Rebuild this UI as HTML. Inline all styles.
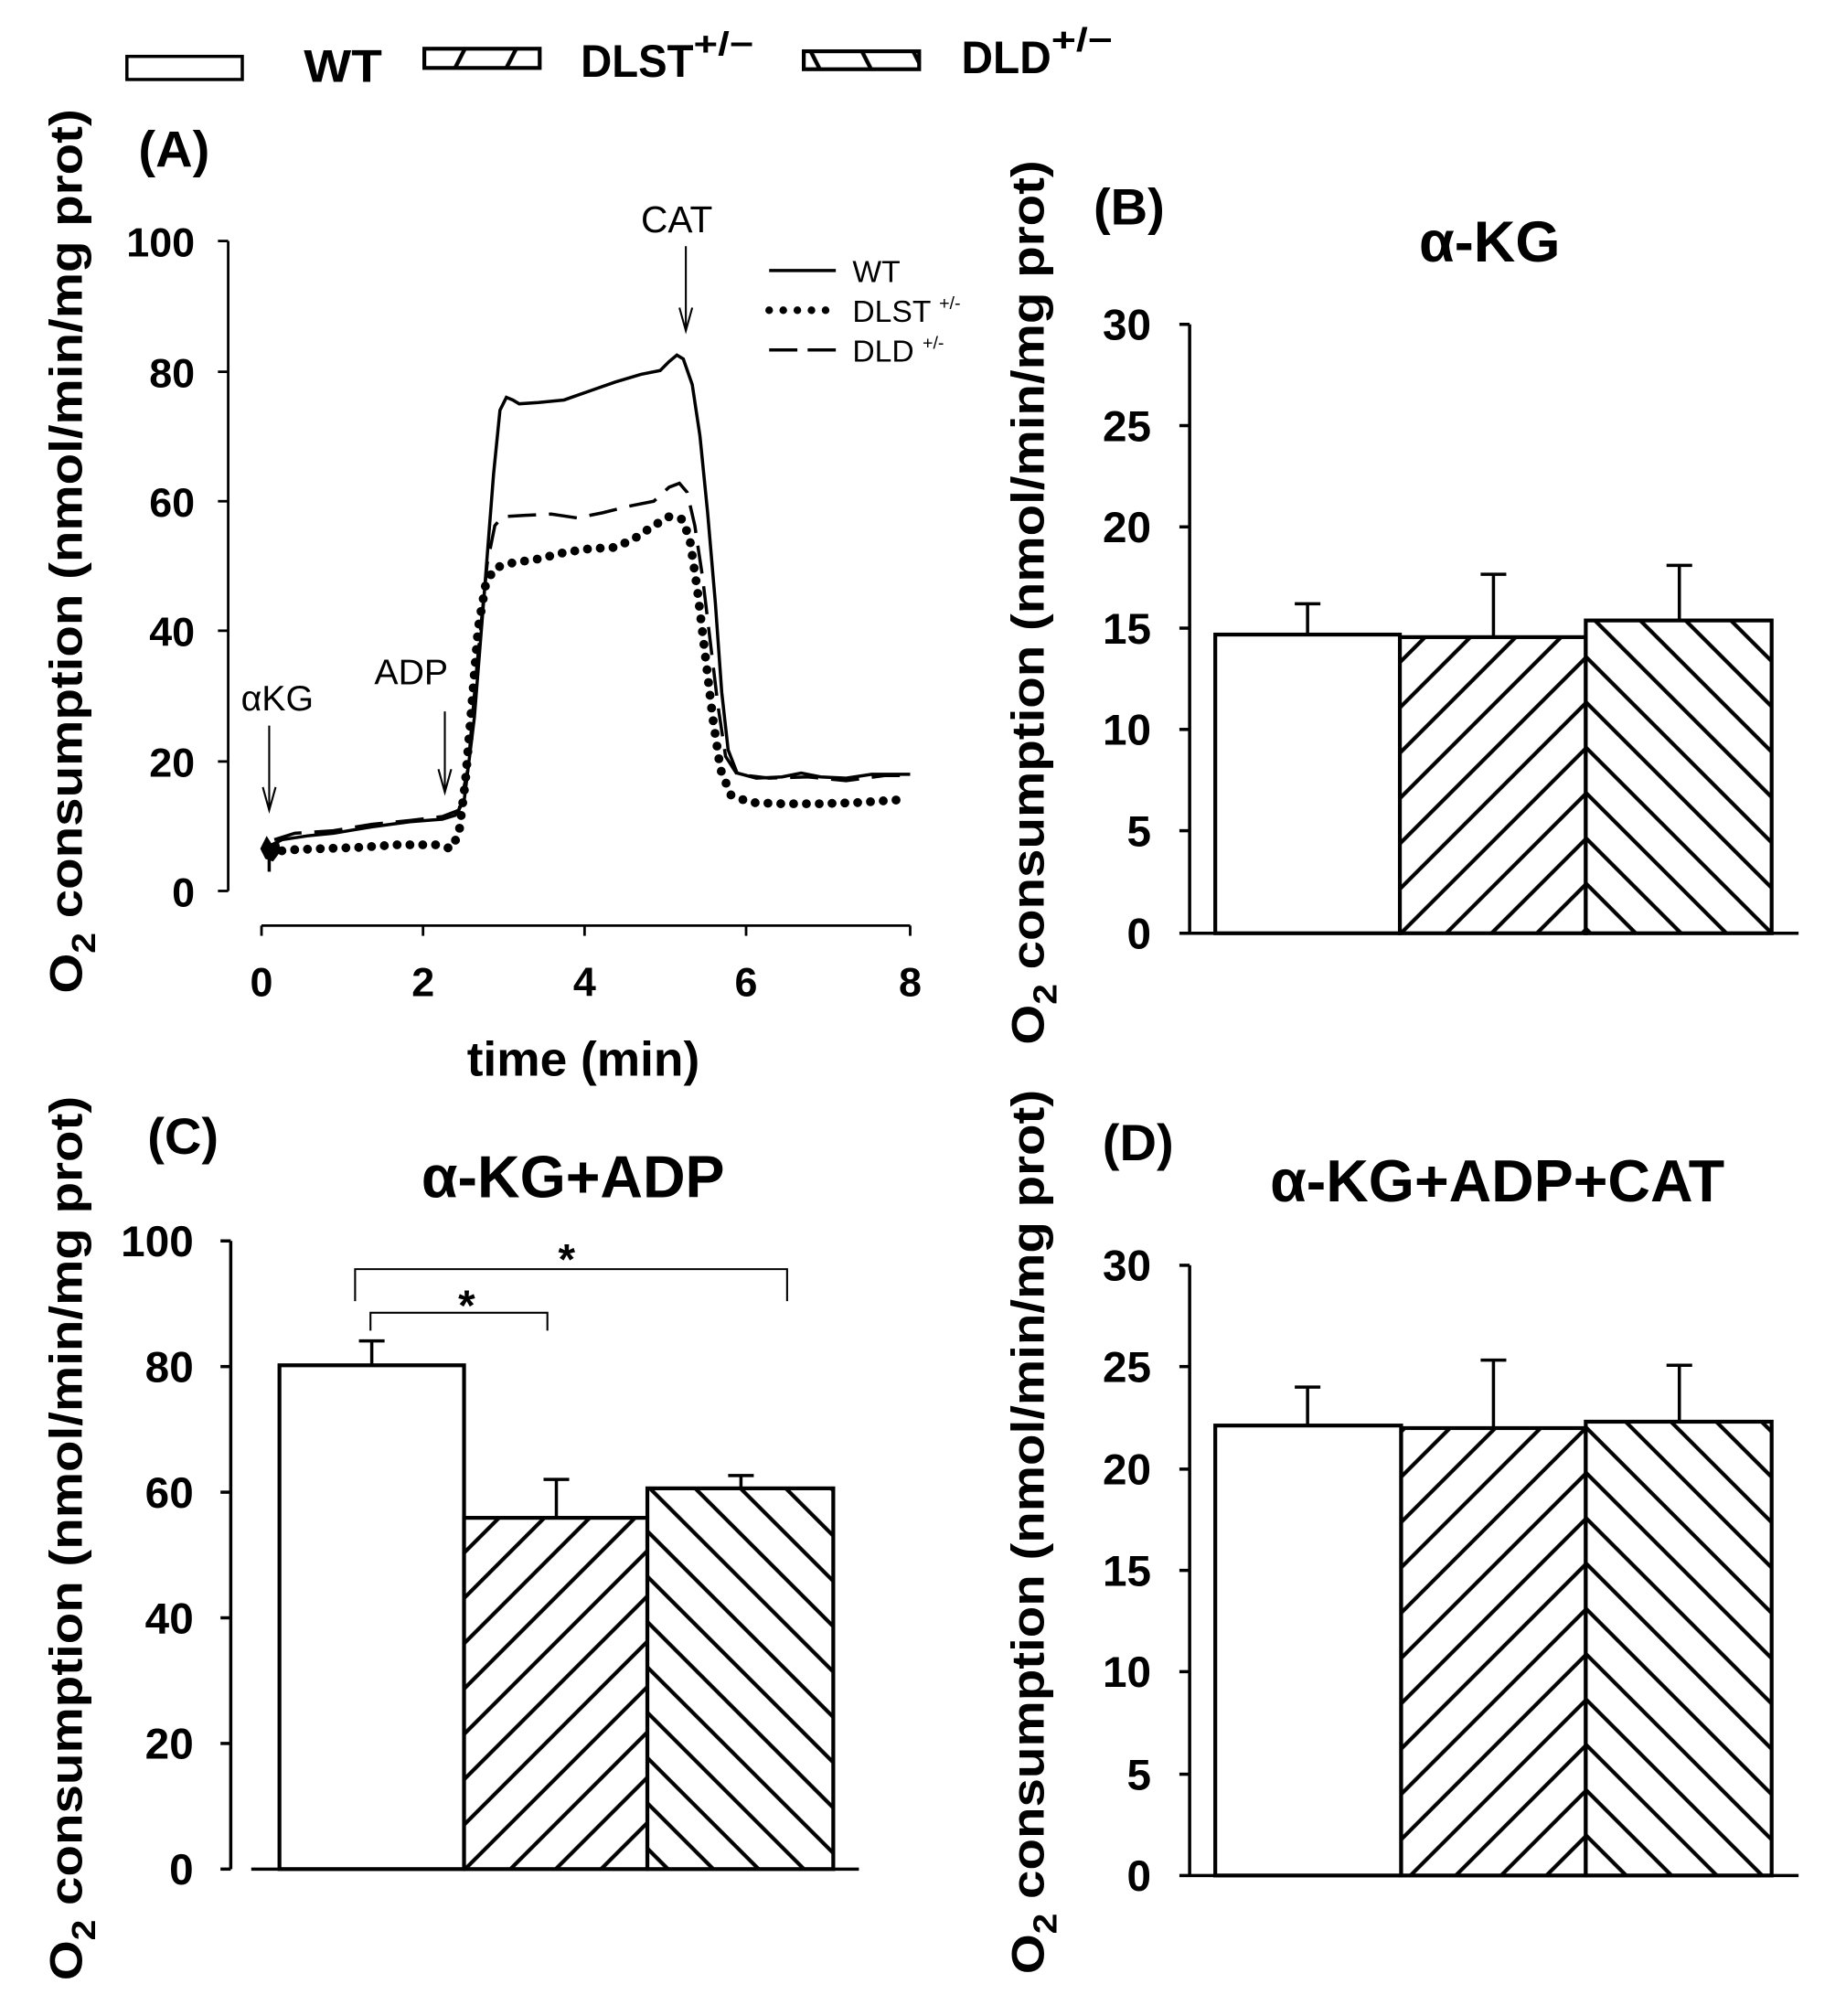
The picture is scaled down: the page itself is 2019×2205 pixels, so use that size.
<!DOCTYPE html>
<html><head><meta charset="utf-8"><style>
html,body{margin:0;padding:0;background:#fff;}
svg{display:block;}
text{font-family:"Liberation Sans",Arial,sans-serif;fill:#000;}
.b{font-weight:bold;}
</style></head><body>
<svg width="2019" height="2205" viewBox="0 0 1440 1572.6" preserveAspectRatio="none" xmlns="http://www.w3.org/2000/svg">
<defs>
<pattern id="fw" patternUnits="userSpaceOnUse" width="25" height="25" patternTransform="rotate(45)">
<rect width="25" height="25" fill="#fff"/><line x1="12.5" y1="0" x2="12.5" y2="25" stroke="#000" stroke-width="3"/>
</pattern>
<pattern id="bw" patternUnits="userSpaceOnUse" width="25" height="25" patternTransform="rotate(-45)">
<rect width="25" height="25" fill="#fff"/><line x1="12.5" y1="0" x2="12.5" y2="25" stroke="#000" stroke-width="3"/>
</pattern>
<pattern id="lfw" patternUnits="userSpaceOnUse" width="40" height="40" patternTransform="translate(20,0) skewX(-27)">
<rect width="40" height="40" fill="#fff"/><line x1="2" y1="0" x2="2" y2="40" stroke="#000" stroke-width="3.5"/>
</pattern>
<pattern id="lbw" patternUnits="userSpaceOnUse" width="40" height="40" patternTransform="translate(10,0) skewX(27)">
<rect width="40" height="40" fill="#fff"/><line x1="2" y1="0" x2="2" y2="40" stroke="#000" stroke-width="3.5"/>
</pattern>
</defs>

<!-- top legend -->
<rect x="99" y="44" width="90" height="18" fill="#fff" stroke="#000" stroke-width="2.5"/>
<text x="237" y="64" class="b" font-size="36" textLength="61" lengthAdjust="spacingAndGlyphs">WT</text>
<rect x="331" y="38" width="90" height="15" fill="url(#lfw)" stroke="#000" stroke-width="3"/>
<text x="453" y="60" class="b" font-size="36" textLength="88" lengthAdjust="spacingAndGlyphs">DLST</text>
<text x="541" y="43" class="b" font-size="26" textLength="47" lengthAdjust="spacingAndGlyphs">+/−</text>
<rect x="627" y="40" width="90" height="14" fill="url(#lbw)" stroke="#000" stroke-width="3"/>
<text x="750" y="57" class="b" font-size="36" textLength="70" lengthAdjust="spacingAndGlyphs">DLD</text>
<text x="820" y="40" class="b" font-size="26" textLength="48" lengthAdjust="spacingAndGlyphs">+/−</text>

<!-- Panel A -->
<text x="108" y="130" class="b" font-size="40">(A)</text>
<text transform="translate(64,430) rotate(-90)" text-anchor="middle" class="b" font-size="36" textLength="690" lengthAdjust="spacingAndGlyphs">O<tspan font-size="26" dy="10">2</tspan><tspan dy="-10"> consumption (nmol/min/mg prot)</tspan></text>
<g stroke="#000" stroke-width="2">
<line x1="178" y1="188" x2="178" y2="695"/>
<line x1="170" y1="188" x2="178" y2="188"/><line x1="170" y1="290" x2="178" y2="290"/>
<line x1="170" y1="391" x2="178" y2="391"/><line x1="170" y1="492" x2="178" y2="492"/>
<line x1="170" y1="594" x2="178" y2="594"/><line x1="170" y1="695" x2="178" y2="695"/>
<line x1="204" y1="722" x2="710" y2="722"/>
<line x1="204" y1="722" x2="204" y2="730"/><line x1="330" y1="722" x2="330" y2="730"/>
<line x1="456" y1="722" x2="456" y2="730"/><line x1="582" y1="722" x2="582" y2="730"/>
<line x1="710" y1="722" x2="710" y2="730"/>
</g>
<g class="b" font-size="32" text-anchor="end">
<text x="152" y="200">100</text><text x="152" y="302">80</text><text x="152" y="403">60</text>
<text x="152" y="504">40</text><text x="152" y="606">20</text><text x="152" y="707">0</text>
</g>
<g class="b" font-size="32" text-anchor="middle">
<text x="204" y="777">0</text><text x="330" y="777">2</text><text x="456" y="777">4</text>
<text x="582" y="777">6</text><text x="710" y="777">8</text>
</g>
<text x="455" y="839" text-anchor="middle" class="b" font-size="38">time (min)</text>

<!-- curves -->
<polyline fill="none" stroke="#000" stroke-width="2.5" points="210,660 220,655 240,652 260,650 290,645 320,641 345,639 355,636 362,625 370,560 378,460 385,370 390,320 395,310 400,312 405,315 420,314 440,312 460,305 480,298 500,292 515,289 522,282 528,277 533,280 540,300 546,340 552,400 558,470 563,540 568,585 575,603 590,607 610,606 625,603 640,606 660,607 680,604 710,604"/>
<polyline fill="none" stroke="#000" stroke-width="2.5" stroke-dasharray="22,10" points="214,655 230,650 260,648 290,643 320,640 345,637 358,632 365,600 372,520 380,440 386,410 392,403 410,402 430,401 450,404 470,400 490,395 510,391 522,380 530,377 536,384 542,410 548,450 554,500 560,550 566,590 575,604 600,607 630,606 660,609 690,605 710,605"/>
<polyline fill="none" stroke="#000" stroke-width="7" stroke-linecap="round" stroke-dasharray="0,10" points="210,665 225,663 250,662 280,661 310,659 340,659 352,662 358,650 363,610 368,550 373,490 379,455 386,443 400,439 420,436 440,431 460,428 480,427 495,420 510,410 522,403 532,405 538,420 544,460 550,510 556,560 562,600 570,620 585,626 610,627 640,627 670,626 700,624"/>
<path d="M203,662 l5,-10 l5,8 l4,-6 l2,10 l-6,8 l-6,-2 z" fill="#000"/>
<line x1="210" y1="660" x2="210" y2="680" stroke="#000" stroke-width="2.5"/>

<!-- arrows -->
<g stroke="#000" stroke-width="1.5" fill="none">
<line x1="210" y1="566" x2="210" y2="632"/><path d="M205,614 L210,632 L215,614"/>
<line x1="347" y1="555" x2="347" y2="618"/><path d="M342,600 L347,618 L352,600"/>
<line x1="535" y1="192" x2="535" y2="258"/><path d="M530,240 L535,258 L540,240"/>
</g>
<text x="188" y="554" font-size="28">αKG</text>
<text x="292" y="534" font-size="28">ADP</text>
<text x="500" y="181" font-size="29">CAT</text>

<!-- A legend -->
<line x1="600" y1="211" x2="652" y2="211" stroke="#000" stroke-width="2.5"/>
<line x1="600" y1="242" x2="652" y2="242" stroke="#000" stroke-width="6" stroke-linecap="round" stroke-dasharray="0,11"/>
<line x1="600" y1="273" x2="652" y2="273" stroke="#000" stroke-width="2.5" stroke-dasharray="22,8"/>
<g font-size="24"><text x="665" y="220">WT</text><text x="665" y="251">DLST <tspan font-size="14" dy="-10">+/-</tspan></text><text x="665" y="282">DLD <tspan font-size="14" dy="-10">+/-</tspan></text></g>

<!-- Panel B -->
<text x="853" y="175" class="b" font-size="40">(B)</text>
<text x="1162" y="204" text-anchor="middle" class="b" font-size="45">α-KG</text>
<text transform="translate(814,470) rotate(-90)" text-anchor="middle" class="b" font-size="36" textLength="690" lengthAdjust="spacingAndGlyphs">O<tspan font-size="26" dy="10">2</tspan><tspan dy="-10"> consumption (nmol/min/mg prot)</tspan></text>
<g stroke="#000" stroke-width="2.5">
<line x1="928" y1="253" x2="928" y2="728"/>
<line x1="920" y1="253" x2="928" y2="253"/><line x1="920" y1="332" x2="928" y2="332"/>
<line x1="920" y1="411" x2="928" y2="411"/><line x1="920" y1="490" x2="928" y2="490"/>
<line x1="920" y1="569" x2="928" y2="569"/><line x1="920" y1="648" x2="928" y2="648"/>
<line x1="920" y1="728" x2="1403" y2="728"/>
<line x1="1020" y1="495" x2="1020" y2="471"/><line x1="1010" y1="471" x2="1030" y2="471"/>
<line x1="1165" y1="497" x2="1165" y2="448"/><line x1="1155" y1="448" x2="1175" y2="448"/>
<line x1="1310" y1="484" x2="1310" y2="441"/><line x1="1300" y1="441" x2="1320" y2="441"/>
</g>
<g stroke="#000" stroke-width="3">
<rect x="948" y="495" width="144" height="233" fill="#fff"/>
<rect x="1092" y="497" width="145" height="231" fill="url(#fw)"/>
<rect x="1237" y="484" width="145" height="244" fill="url(#bw)"/>
</g>
<g class="b" font-size="34" text-anchor="end">
<text x="898" y="265">30</text><text x="898" y="344">25</text><text x="898" y="423">20</text>
<text x="898" y="502">15</text><text x="898" y="581">10</text><text x="898" y="660">5</text><text x="898" y="740">0</text>
</g>

<!-- Panel C -->
<text x="115" y="900" class="b" font-size="40">(C)</text>
<text x="447" y="934" text-anchor="middle" class="b" font-size="46">α-KG+ADP</text>
<text transform="translate(64,1200) rotate(-90)" text-anchor="middle" class="b" font-size="36" textLength="690" lengthAdjust="spacingAndGlyphs">O<tspan font-size="26" dy="10">2</tspan><tspan dy="-10"> consumption (nmol/min/mg prot)</tspan></text>
<g stroke="#000" stroke-width="2.5">
<line x1="180" y1="968" x2="180" y2="1458"/>
<line x1="172" y1="968" x2="180" y2="968"/><line x1="172" y1="1066" x2="180" y2="1066"/>
<line x1="172" y1="1164" x2="180" y2="1164"/><line x1="172" y1="1262" x2="180" y2="1262"/>
<line x1="172" y1="1360" x2="180" y2="1360"/><line x1="172" y1="1458" x2="180" y2="1458"/>
<line x1="196" y1="1458" x2="670" y2="1458"/>
<line x1="290" y1="1065" x2="290" y2="1046"/><line x1="280" y1="1046" x2="300" y2="1046"/>
<line x1="434" y1="1184" x2="434" y2="1154"/><line x1="424" y1="1154" x2="444" y2="1154"/>
<line x1="578" y1="1161" x2="578" y2="1151"/><line x1="568" y1="1151" x2="588" y2="1151"/>
</g>
<g stroke="#000" stroke-width="1.5" fill="none">
<polyline points="277,1015 277,990 614,990 614,1015"/>
<polyline points="289,1038 289,1024 427,1024 427,1038"/>
</g>
<text x="442" y="994" text-anchor="middle" class="b" font-size="34">*</text>
<text x="364" y="1030" text-anchor="middle" class="b" font-size="34">*</text>
<g stroke="#000" stroke-width="3">
<rect x="218" y="1065" width="144" height="393" fill="#fff"/>
<rect x="362" y="1184" width="143" height="274" fill="url(#fw)"/>
<rect x="505" y="1161" width="145" height="297" fill="url(#bw)"/>
</g>
<g class="b" font-size="34" text-anchor="end">
<text x="151" y="980">100</text><text x="151" y="1078">80</text><text x="151" y="1176">60</text>
<text x="151" y="1274">40</text><text x="151" y="1372">20</text><text x="151" y="1470">0</text>
</g>

<!-- Panel D -->
<text x="860" y="905" class="b" font-size="40">(D)</text>
<text x="1168" y="937" text-anchor="middle" class="b" font-size="46">α-KG+ADP+CAT</text>
<text transform="translate(814,1195) rotate(-90)" text-anchor="middle" class="b" font-size="36" textLength="690" lengthAdjust="spacingAndGlyphs">O<tspan font-size="26" dy="10">2</tspan><tspan dy="-10"> consumption (nmol/min/mg prot)</tspan></text>
<g stroke="#000" stroke-width="2.5">
<line x1="928" y1="987" x2="928" y2="1463"/>
<line x1="920" y1="987" x2="928" y2="987"/><line x1="920" y1="1066" x2="928" y2="1066"/>
<line x1="920" y1="1146" x2="928" y2="1146"/><line x1="920" y1="1225" x2="928" y2="1225"/>
<line x1="920" y1="1304" x2="928" y2="1304"/><line x1="920" y1="1384" x2="928" y2="1384"/>
<line x1="920" y1="1463" x2="1403" y2="1463"/>
<line x1="1020" y1="1112" x2="1020" y2="1082"/><line x1="1010" y1="1082" x2="1030" y2="1082"/>
<line x1="1165" y1="1114" x2="1165" y2="1061"/><line x1="1155" y1="1061" x2="1175" y2="1061"/>
<line x1="1310" y1="1109" x2="1310" y2="1065"/><line x1="1300" y1="1065" x2="1320" y2="1065"/>
</g>
<g stroke="#000" stroke-width="3">
<rect x="948" y="1112" width="145" height="351" fill="#fff"/>
<rect x="1093" y="1114" width="144" height="349" fill="url(#fw)"/>
<rect x="1237" y="1109" width="145" height="354" fill="url(#bw)"/>
</g>
<g class="b" font-size="34" text-anchor="end">
<text x="898" y="999">30</text><text x="898" y="1078">25</text><text x="898" y="1158">20</text>
<text x="898" y="1237">15</text><text x="898" y="1316">10</text><text x="898" y="1396">5</text><text x="898" y="1475">0</text>
</g>
</svg>
</body></html>
